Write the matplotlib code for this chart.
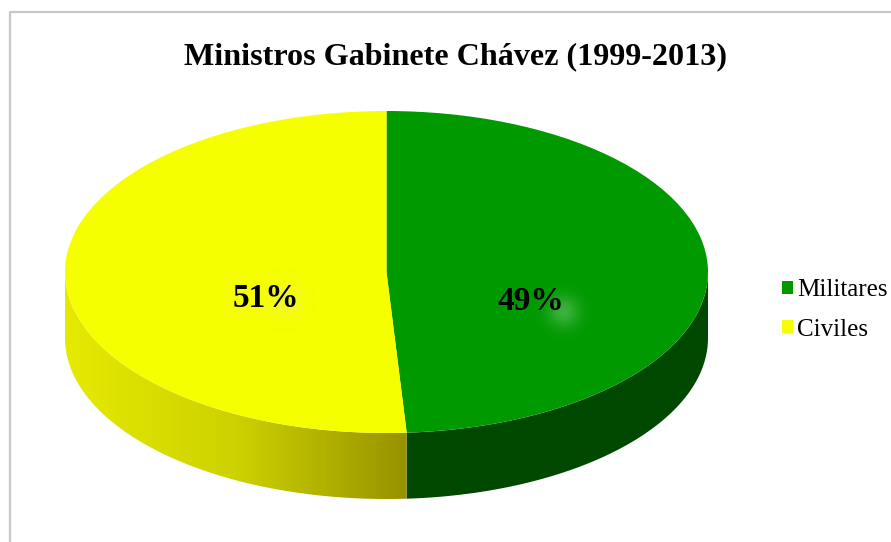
import numpy as np
from matplotlib import pyplot as plt
from matplotlib.colors import LinearSegmentedColormap
from matplotlib.lines import Line2D
from matplotlib.patches import Patch, Polygon

categories = ["Militares", "Civiles"]
shares = [49, 51]
colors = ["#009900", "#f6ff00"]
chart_title = "Ministros Gabinete Chávez (1999-2013)"

W, H = 891, 542
DEPTH = 66 / 161  # wall height, in units of the ellipse's vertical radius


def wallPolygon(a0, a1):
    t = np.radians(np.linspace(a0, a1, 200))
    x = np.cos(t)
    y = np.sin(t)
    top = np.column_stack([x, y])
    bottom = np.column_stack([x, y - DEPTH])[::-1]
    return np.vstack([top, bottom])


def addGlow(ax, cx, cy, color, strength):
    # soft pale smudge that sits behind the percent labels
    xs = np.linspace(cx - 0.14, cx + 0.14, 60)
    ys = np.linspace(cy - 0.25, cy + 0.25, 60)
    xx, yy = np.meshgrid(xs, ys)
    alpha = np.exp(-(((xx - cx) / 0.05) ** 2 + ((yy - cy) / 0.1) ** 2))
    img = np.zeros((60, 60, 4))
    img[..., :3] = color
    img[..., 3] = alpha * strength
    ax.imshow(img, extent=(xs[0], xs[-1], ys[0], ys[-1]), origin="lower",
              aspect="auto", zorder=3)


plt.rcParams["font.family"] = ["Liberation Serif", "DejaVu Serif"]
fig = plt.figure(figsize=(W / 100, H / 100), dpi=100, facecolor="white")

# chart frame, only the top and left edges are on the picture
fig.add_artist(Line2D([10 / W, 10 / W, 1], [0, 1 - 12 / H, 1 - 12 / H],
                      color="#c8c8c8", lw=1.6))

x0, x1, y_top, y_bot = 65, 708, 111, 499
ax = fig.add_axes([x0 / W, 1 - y_bot / H, (x1 - x0) / W, (y_bot - y_top) / H])

wedges, _, autotexts = ax.pie(shares, colors=colors, startangle=90, counterclock=False,
                              autopct="%.0f%%", pctdistance=0.42,
                              wedgeprops={"linewidth": 0, "zorder": 2},
                              textprops={"fontsize": 24, "fontweight": "bold", "zorder": 4})

split = 90 - 360 * shares[0] / sum(shares)

ax.add_patch(Polygon(wallPolygon(0, split), closed=True, facecolor="#004700",
                     edgecolor="none", zorder=1))

yellow_wall = Polygon(wallPolygon(split, -180), closed=True, facecolor="none",
                      edgecolor="none", zorder=1)
ax.add_patch(yellow_wall)
wall_cmap = LinearSegmentedColormap.from_list("wall", ["#e6ea00", "#cdd200", "#969200"])
grad = ax.imshow(np.linspace(0, 1, 256).reshape(1, -1), cmap=wall_cmap, aspect="auto",
                 extent=(-1, np.cos(np.radians(split)), -1 - DEPTH, 0), zorder=1)
grad.set_clip_path(yellow_wall)

# the labels sit a bit lower than the slice centres
lx = [0.45, -0.375]
ly = [-0.185, -0.165]
for t, x, y in zip(autotexts, lx, ly):
    t.set_position((x, y))
addGlow(ax, 0.55, -0.25, (0.85, 0.95, 0.85), 0.28)
addGlow(ax, -0.32, -0.17, (0.9, 0.9, 0.6), 0.3)

ax.set_aspect("auto")
ax.set_xlim(-1, 1)
ax.set_ylim(-1 - DEPTH, 1)
ax.axis("off")

fig.text(456 / W, 1 - 57 / H, chart_title, ha="center", va="center",
         fontsize=23.1, fontweight="bold", color="black")

handles = [Patch(facecolor=c, edgecolor="none", label=n) for c, n in zip(colors, categories)]
fig.legend(handles=handles, loc="center left", bbox_to_anchor=(782 / W, 1 - 310 / H),
           frameon=False, fontsize=18, handlelength=0.44, handleheight=0.44,
           handletextpad=0.16, labelspacing=0.7, borderpad=0, borderaxespad=0)

fig.savefig("out.png", dpi=100)
